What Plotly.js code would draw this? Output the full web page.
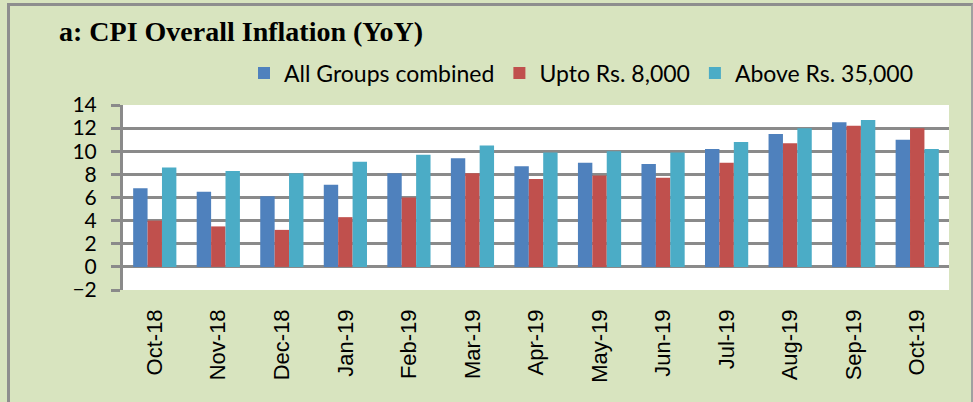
<!DOCTYPE html>
<html>
<head>
<meta charset="utf-8">
<script src="https://cdn.plot.ly/plotly-3.0.1.min.js"></script>
<style>
  html, body { margin: 0; padding: 0; background: #D8E4BF; overflow: hidden; }
  #frame { position: absolute; left: 7px; top: 3px; width: 961px; height: 430px;
           border-left: 3px solid #8E8E8E; border-top: 3px solid #8E8E8E; border-right: 2px solid #A0A0A0; z-index: 0; }
  #chart { position: absolute; left: 0; top: 0; width: 973px; height: 402px; z-index: 1; }
</style>
</head>
<body>
<div id="frame"></div>
<div id="chart"></div>
<script>
const months = ["Oct-18","Nov-18","Dec-18","Jan-19","Feb-19","Mar-19","Apr-19","May-19","Jun-19","Jul-19","Aug-19","Sep-19","Oct-19"];
const allGroups = [6.8, 6.5, 6.1, 7.1, 8.1, 9.4, 8.7, 9.0, 8.9, 10.2, 11.5, 12.5, 11.0];
const upto8000 = [4.0, 3.5, 3.2, 4.3, 6.0, 8.1, 7.6, 7.9, 7.7, 9.0, 10.7, 12.2, 12.0];
const above35000 = [8.6, 8.3, 8.1, 9.1, 9.7, 10.5, 9.9, 10.0, 9.9, 10.8, 12.0, 12.7, 10.2];
const seriesNames = ["All Groups combined", "Upto Rs. 8,000", "Above Rs. 35,000"];
const colors = ["#4F81BD", "#C0504D", "#4BACC6"];
const yTicks = [-2, 0, 2, 4, 6, 8, 10, 12, 14];

const traces = [allGroups, upto8000, above35000].map((vals, i) => ({
  type: "bar", x: months, y: vals, name: seriesNames[i],
  marker: { color: colors[i], line: { width: 0 } }
}));

const layout = {
  width: 973, height: 402,
  margin: { l: 123, r: 24, t: 105, b: 112, pad: 0 },
  paper_bgcolor: "rgba(0,0,0,0)",
  plot_bgcolor: "#FFFFFF",
  barmode: "group", bargap: 0.32, bargroupgap: 0,
  title: { text: "a: CPI Overall Inflation (YoY)", x: 59/973, xref: "container", xanchor: "left",
           y: 1 - 31/402, yref: "container", yanchor: "middle",
           font: { family: "Liberation Serif", size: 28, color: "#000", weight: "bold" } },
  showlegend: true,
  legend: { orientation: "h", xref: "container", yref: "container", x: 244/973, xanchor: "left",
            y: 1 - 73/402, yanchor: "middle", bgcolor: "rgba(0,0,0,0)",
            font: { family: "Lato", size: 23, color: "#000" }, traceorder: "normal" },
  xaxis: { type: "category", range: [-0.5, 12.5], showgrid: false, showline: false, zeroline: false,
           ticks: "", tickangle: -90, ticklabelstandoff: 14,
           tickfont: { family: "Liberation Sans", size: 22, color: "#000" }, automargin: false },
  xaxis2: { overlaying: "x", anchor: "free", position: 0.125, type: "linear", range: [-0.5, 12.5],
            tick0: -0.5, dtick: 1, ticks: "outside", ticklen: 7, tickwidth: 3, tickcolor: "#8A8A8A",
            showline: true, linewidth: 3, linecolor: "#8A8A8A", showgrid: false, zeroline: false,
            showticklabels: false },
  yaxis: { range: [-2, 14], tickvals: yTicks, showgrid: true, gridcolor: "#8A8A8A", gridwidth: 3,
           zeroline: false, showline: true, linewidth: 3, linecolor: "#8A8A8A",
           ticks: "outside", ticklen: 9, tickwidth: 3, tickcolor: "#8A8A8A", ticklabelstandoff: 10,
           tickfont: { family: "Lato", size: 21, color: "#000" }, automargin: false }
};

Plotly.newPlot("chart", traces, layout, { displayModeBar: false, staticPlot: true });
</script>
</body>
</html>
